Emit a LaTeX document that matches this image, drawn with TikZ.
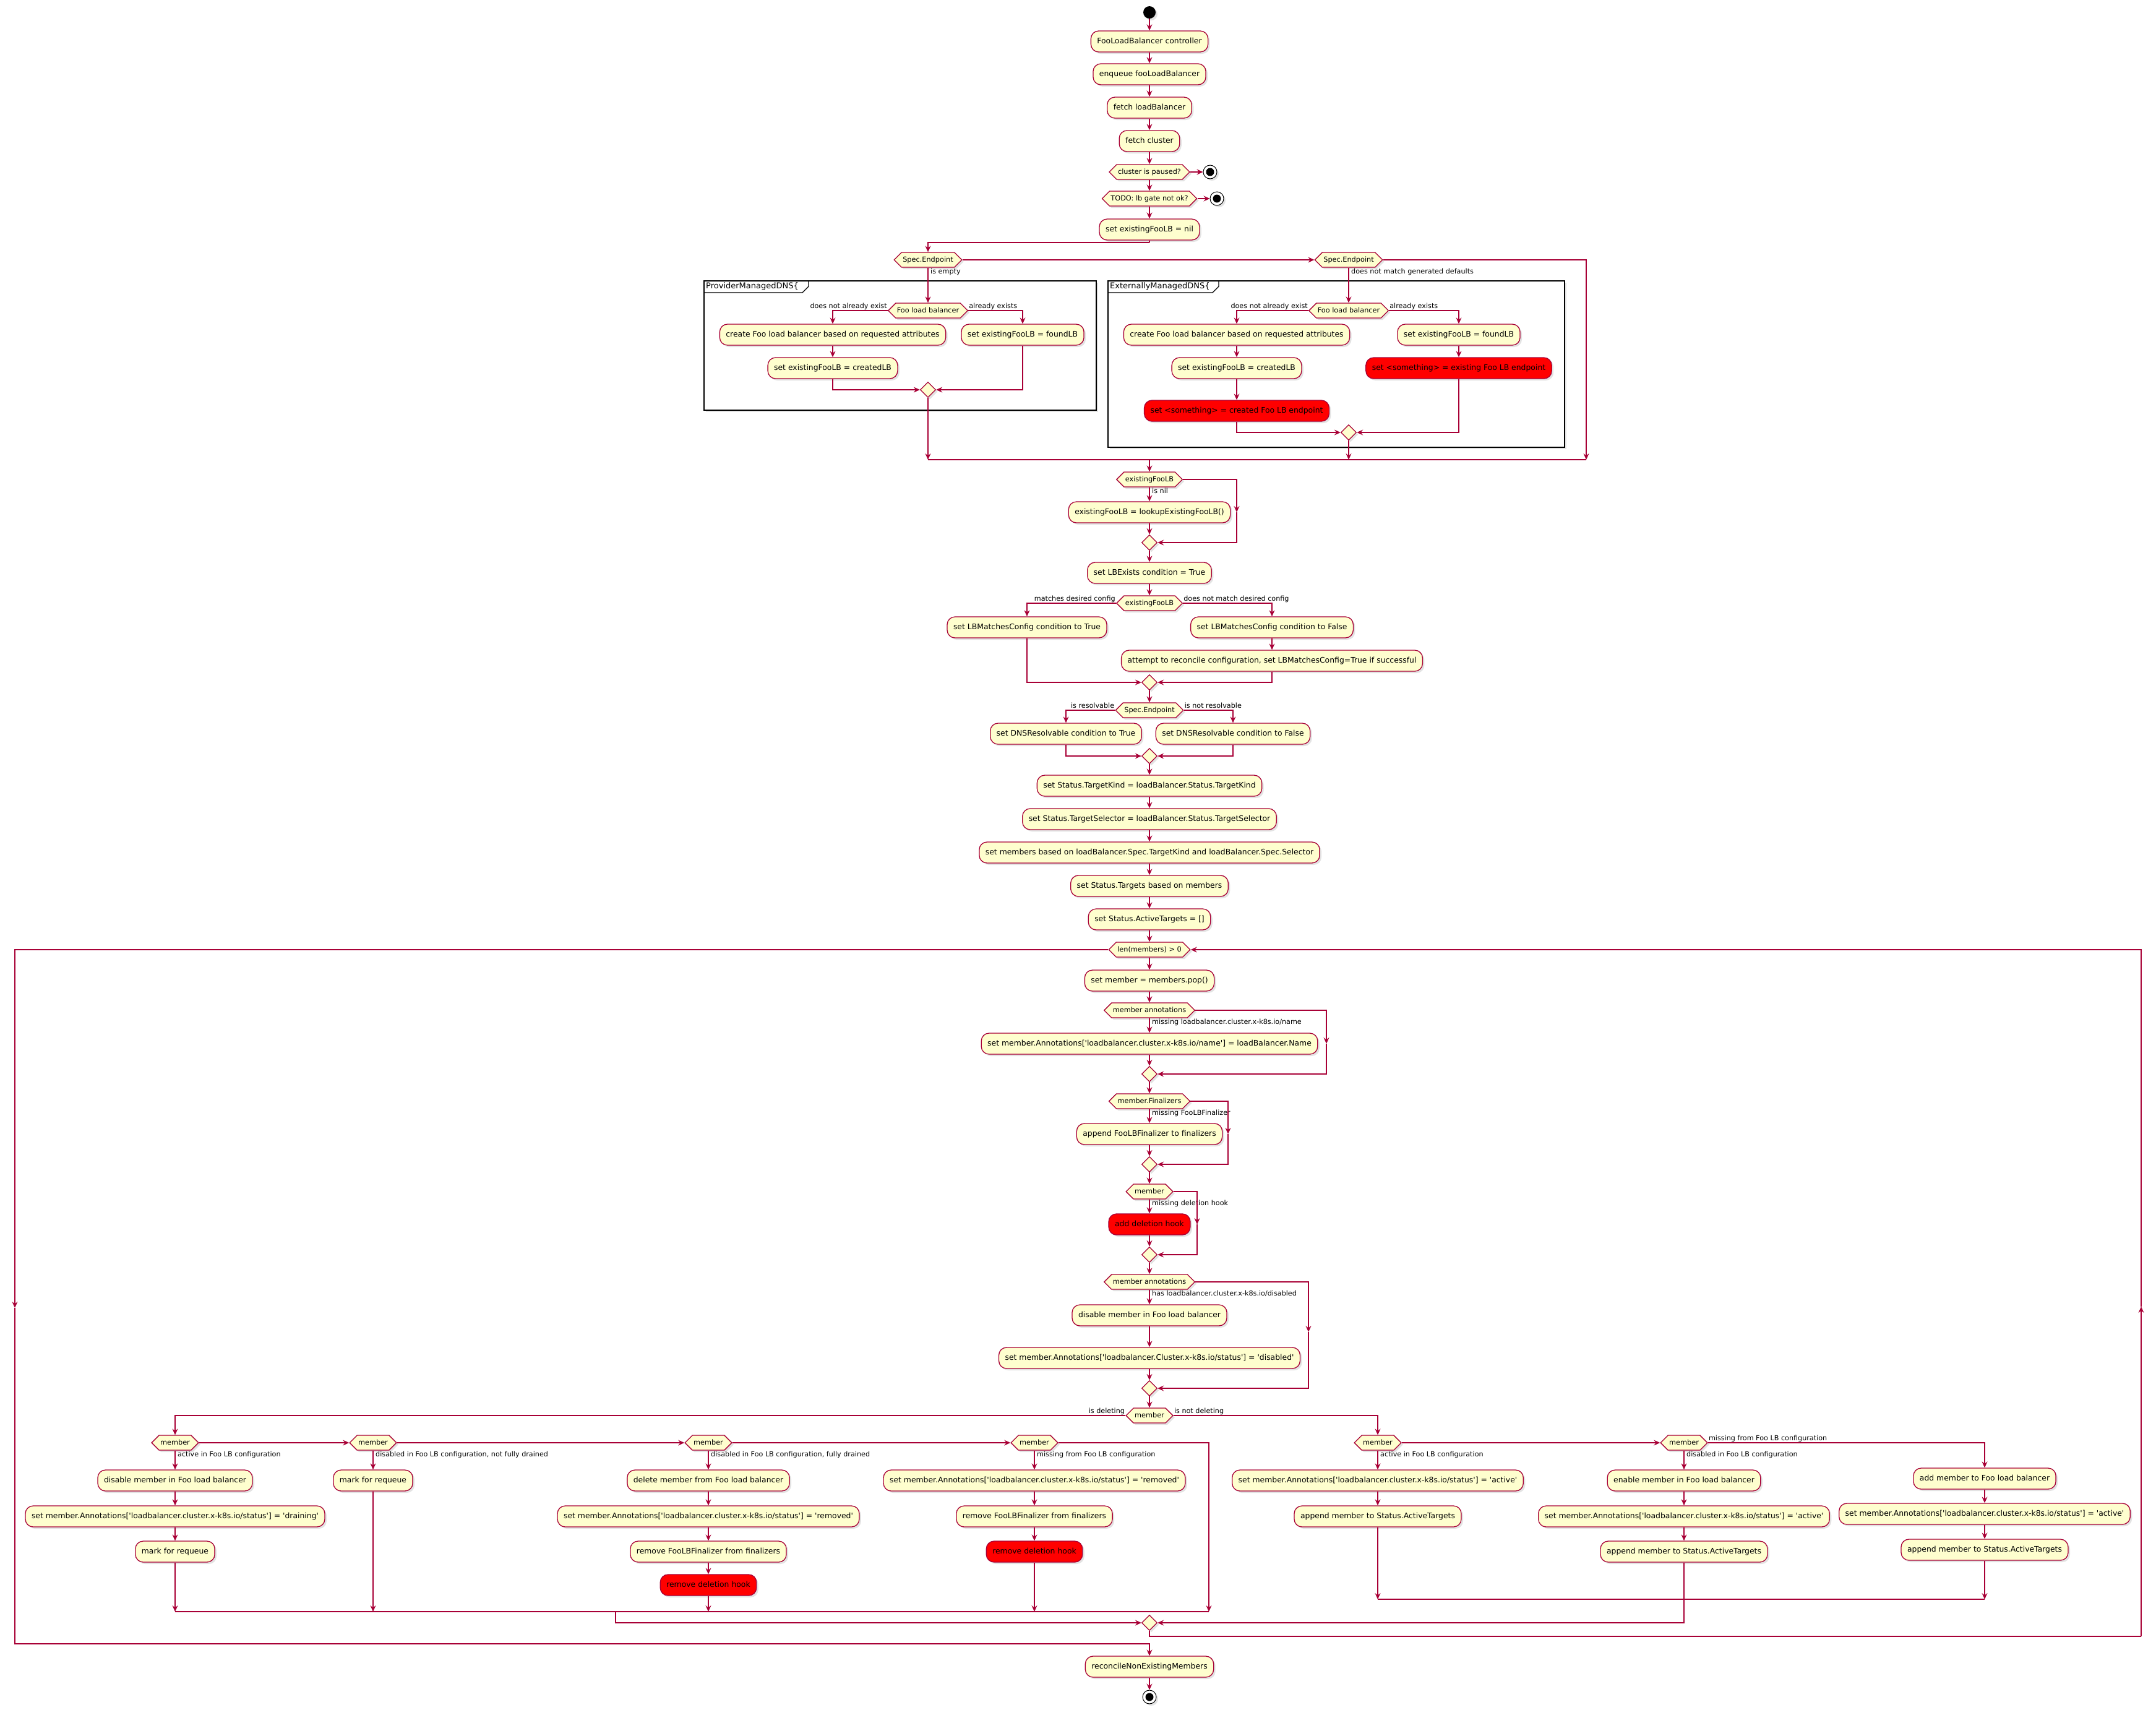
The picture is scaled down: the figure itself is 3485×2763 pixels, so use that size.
\documentclass[tikz,border=0pt]{standalone}
\usepackage{fontspec}
\usetikzlibrary{arrows.meta,shapes.geometric,shapes.symbols,shadows}
\newfontfamily\plfont{DejaVu Sans}
\newcommand\puboxfont{\plfont\fontsize{12.4pt}{14pt}\selectfont}
\newcommand\pudecfont{\plfont\fontsize{11.3pt}{13pt}\selectfont}
\newcommand\pulblfont{\plfont\fontsize{11.2pt}{13pt}\selectfont}
\newcommand\pufrmfont{\plfont\fontsize{13pt}{15pt}\selectfont}
\definecolor{acol}{HTML}{A80036}
\definecolor{boxfill}{HTML}{FEFECE}
\tikzset{
  shd/.style={drop shadow={shadow xshift=3pt,shadow yshift=-3pt,opacity=0.22}},
  flow/.style={draw=acol,line width=1.2pt,-{Stealth[length=10pt,width=9pt,inset=3.5pt]}},
  ln/.style={draw=acol,line width=1.2pt},
  act/.style={draw=acol,fill=boxfill,rounded corners=12.5pt,line width=1.3pt,minimum height=34pt,inner xsep=10pt,inner ysep=4pt,font=\puboxfont,text height=9.2pt,text depth=2.6pt,shd},
  redact/.style={act,fill=red},
  dec/.style={shape=signal,signal to=west and east,signal pointer angle=90,draw=acol,fill=boxfill,line width=1.3pt,inner xsep=2pt,inner ysep=3pt,minimum height=24pt,font=\pudecfont,text height=8.4pt,text depth=2.3pt,shd},
  mrg/.style={diamond,aspect=1,draw=acol,fill=boxfill,line width=1.3pt,minimum size=25pt,inner sep=0pt,shd},
  lbl/.style={font=\pulblfont,inner sep=1pt,text height=8.3pt,text depth=2.3pt},
  startnode/.style={circle,fill=black,minimum size=20pt,inner sep=0pt,shd},
  stopnode/.style={circle,draw=black,fill=white,line width=1pt,minimum size=22pt,inner sep=0pt,shd,
     path picture={\fill[black] (path picture bounding box.center) circle (6.5pt);}},
  frm/.style={draw=black,line width=1.6pt,fill=white,shd},
}
\begin{document}
\begin{tikzpicture}[x=1pt,y=-1pt]
\useasboundingbox (0,0) rectangle (3485,2763);
\fill[white] (0,0) rectangle (3485,2763);

% frames
\draw[frm] (1138,454) rectangle (1772,663);
\draw[line width=1.3pt] (1138,473) -- (1297,473) -- (1307,463) -- (1307,454);
\node[anchor=west,font=\pufrmfont,inner sep=1pt] (fr1) at (1140,463) {ProviderManagedDNS\{};
\draw[frm] (1791,454) rectangle (2529,723);
\draw[line width=1.3pt] (1791,473) -- (1960,473) -- (1970,463) -- (1970,454);
\node[anchor=west,font=\pufrmfont,inner sep=1pt] (fr2) at (1793,463) {ExternallyManagedDNS\{};

% top chain
\node[startnode] (start) at (1858,20) {};
\node[act] (n1) at (1858,67) {FooLoadBalancer controller};
\node[act] (n2) at (1858,120) {enqueue fooLoadBalancer};
\node[act] (n3) at (1858,174) {fetch loadBalancer};
\node[act] (n4) at (1858,228) {fetch cluster};
\node[dec] (d1) at (1858,278) {cluster is paused?};
\node[stopnode] (stop1) at (1956,278) {};
\node[dec] (d2) at (1858,321) {TODO: lb gate not ok?};
\node[stopnode] (stop2) at (1967,321) {};
\node[act] (n5) at (1858,371) {set existingFooLB = nil};

% Spec.Endpoint split
\node[dec] (se1) at (1500,420) {Spec.Endpoint};
\node[dec] (se2) at (2180,420) {Spec.Endpoint};
\node[dec] (fl1) at (1500,502) {Foo load balancer};
\node[act] (c1) at (1346,541) {create Foo load balancer based on requested attributes};
\node[act] (s1) at (1346,595) {set existingFooLB = createdLB};
\node[act] (f1) at (1653,541) {set existingFooLB = foundLB};
\node[mrg] (m1) at (1500,630) {};
\node[dec] (fl2) at (2180,502) {Foo load balancer};
\node[act] (c2) at (1999,541) {create Foo load balancer based on requested attributes};
\node[act] (s2) at (1999,595) {set existingFooLB = createdLB};
\node[redact] (r1) at (1999,664) {set <something> = created Foo LB endpoint};
\node[act] (f2) at (2358,541) {set existingFooLB = foundLB};
\node[redact] (r2) at (2358,595) {set <something> = existing Foo LB endpoint};
\node[mrg] (m2) at (2180,699) {};

% middle
\node[dec] (e1) at (1858,775) {existingFooLB};
\node[act] (lk) at (1858,828) {existingFooLB = lookupExistingFooLB()};
\node[mrg] (m3) at (1858,877) {};
\node[act] (lbe) at (1858,926) {set LBExists condition = True};
\node[dec] (e2) at (1858,975) {existingFooLB};
\node[act] (mt) at (1660,1014) {set LBMatchesConfig condition to True};
\node[act] (mf) at (2056,1014) {set LBMatchesConfig condition to False};
\node[act] (at) at (2056,1068) {attempt to reconcile configuration, set LBMatchesConfig=True if successful};
\node[mrg] (m4) at (1858,1103) {};
\node[dec] (se3) at (1858,1148) {Spec.Endpoint};
\node[act] (dt) at (1723,1186) {set DNSResolvable condition to True};
\node[act] (df) at (1993,1186) {set DNSResolvable condition to False};
\node[mrg] (m5) at (1858,1222) {};
\node[act] (tk) at (1858,1270) {set Status.TargetKind = loadBalancer.Status.TargetKind};
\node[act] (ts) at (1858,1324) {set Status.TargetSelector = loadBalancer.Status.TargetSelector};
\node[act] (sm) at (1858,1378) {set members based on loadBalancer.Spec.TargetKind and loadBalancer.Spec.Selector};
\node[act] (st) at (1858,1432) {set Status.Targets based on members};
\node[act] (sa) at (1858,1486) {set Status.ActiveTargets = []};

% loop body
\node[dec] (lm) at (1858,1535) {len(members) > 0};
\node[act] (pop) at (1858,1585) {set member = members.pop()};
\node[dec] (ma1) at (1858,1633) {member annotations};
\node[act] (an) at (1858,1687) {set member.Annotations['loadbalancer.cluster.x-k8s.io/name'] = loadBalancer.Name};
\node[mrg] (m6) at (1858,1736) {};
\node[dec] (fz) at (1858,1780) {member.Finalizers};
\node[act] (af) at (1858,1833) {append FooLBFinalizer to finalizers};
\node[mrg] (m7) at (1858,1882) {};
\node[dec] (mb1) at (1858,1926) {member};
\node[redact] (adh) at (1858,1979) {add deletion hook};
\node[mrg] (m8) at (1858,2028) {};
\node[dec] (ma2) at (1858,2072) {member annotations};
\node[act] (dis) at (1858,2126) {disable member in Foo load balancer};
\node[act] (sdis) at (1858,2195) {set member.Annotations['loadbalancer.Cluster.x-k8s.io/status'] = 'disabled'};
\node[mrg] (m9) at (1858,2244) {};
\node[dec] (mem) at (1858,2288) {member};

% deleting side
\node[dec] (q1) at (283,2332) {member};
\node[act] (q1a) at (283,2393) {disable member in Foo load balancer};
\node[act] (q1b) at (283,2451) {set member.Annotations['loadbalancer.cluster.x-k8s.io/status'] = 'draining'};
\node[act] (q1c) at (283,2508) {mark for requeue};
\node[dec] (q2) at (603,2332) {member};
\node[act] (q2a) at (603,2393) {mark for requeue};
\node[dec] (q3) at (1145,2332) {member};
\node[act] (q3a) at (1145,2393) {delete member from Foo load balancer};
\node[act] (q3b) at (1145,2451) {set member.Annotations['loadbalancer.cluster.x-k8s.io/status'] = 'removed'};
\node[act] (q3c) at (1145,2508) {remove FooLBFinalizer from finalizers};
\node[redact] (q3d) at (1145,2562) {remove deletion hook};
\node[dec] (q4) at (1672,2332) {member};
\node[act] (q4a) at (1672,2393) {set member.Annotations['loadbalancer.cluster.x-k8s.io/status'] = 'removed'};
\node[act] (q4b) at (1672,2451) {remove FooLBFinalizer from finalizers};
\node[redact] (q4c) at (1672,2508) {remove deletion hook};

% not deleting side
\node[dec] (p1) at (2227,2332) {member};
\node[act] (p1a) at (2227,2393) {set member.Annotations['loadbalancer.cluster.x-k8s.io/status'] = 'active'};
\node[act] (p1b) at (2227,2451) {append member to Status.ActiveTargets};
\node[dec] (p2) at (2722,2332) {member};
\node[act] (p2a) at (2722,2393) {enable member in Foo load balancer};
\node[act] (p2b) at (2722,2451) {set member.Annotations['loadbalancer.cluster.x-k8s.io/status'] = 'active'};
\node[act] (p2c) at (2722,2508) {append member to Status.ActiveTargets};
\node[act] (p3a) at (3208,2390) {add member to Foo load balancer};
\node[act] (p3b) at (3208,2447) {set member.Annotations['loadbalancer.cluster.x-k8s.io/status'] = 'active'};
\node[act] (p3c) at (3208,2505) {append member to Status.ActiveTargets};

\node[mrg] (mfin) at (1858,2623) {};
\node[act] (rec) at (1858,2694) {reconcileNonExistingMembers};
\node[stopnode] (stop3) at (1858,2743) {};

% helper coordinates
\coordinate (j1) at (1858,392);
\coordinate (jL) at (1500,743);
\coordinate (jM) at (2180,743);
\coordinate (jC) at (1858,743);
\coordinate (jR) at (2564,743);
\coordinate (b1) at (1999,828);
\coordinate (b2) at (2144,1687);
\coordinate (b3) at (1985,1833);
\coordinate (b4) at (1935,1979);
\coordinate (b5) at (2115,2153);
\coordinate (k1) at (283,2605);
\coordinate (k2) at (603,2605);
\coordinate (k3) at (1145,2605);
\coordinate (k4) at (1672,2605);
\coordinate (k5) at (1954,2605);
\coordinate (k6) at (995,2605);
\coordinate (h1) at (2227,2585);
\coordinate (h3) at (3208,2585);
\coordinate (lp0) at (1858,2645);
\coordinate (lp1) at (3461,2645);
\coordinate (lp2) at (3461,2112);
\coordinate (ex1) at (24,2114);
\coordinate (ex2) at (1858,2657);

% connectors: top
\draw[flow] (start) -- (n1.north);
\draw[flow] (n1.south) -- (n2.north);
\draw[flow] (n2.south) -- (n3.north);
\draw[flow] (n3.south) -- (n4.north);
\draw[flow] (n4.south) -- (d1.north);
\draw[flow] (d1.east) -- (stop1.west);
\draw[flow] (d1.south) -- (d2.north);
\draw[flow] (d2.east) -- (stop2.west);
\draw[flow] (d2.south) -- (n5.north);
\draw[ln] (n5.south) -- (j1);
\draw[flow] (j1) -| (se1.north);
\draw[flow] (se1.east) -- (se2.west);
\draw[flow] (se2.east) -| (jR);
\draw[flow] (se1.south) -- (fl1.north);
\node[lbl,anchor=north west] (l1) at ([xshift=3pt]se1.south) {is empty};
\draw[flow] (fl1.west) -| (c1.north);
\node[lbl,anchor=south east] (l2) at (fl1.west) {does not already exist};
\draw[flow] (fl1.east) -| (f1.north);
\node[lbl,anchor=south west] (l3) at (fl1.east) {already exists};
\draw[flow] (c1.south) -- (s1.north);
\draw[flow] (s1.south) |- (m1.west);
\draw[flow] (f1.south) |- (m1.east);
\draw[flow] (m1.south) -- (jL);
\draw[flow] (se2.south) -- (fl2.north);
\node[lbl,anchor=north west] (l4) at ([xshift=3pt]se2.south) {does not match generated defaults};
\draw[flow] (fl2.west) -| (c2.north);
\node[lbl,anchor=south east] (l5) at (fl2.west) {does not already exist};
\draw[flow] (fl2.east) -| (f2.north);
\node[lbl,anchor=south west] (l6) at (fl2.east) {already exists};
\draw[flow] (c2.south) -- (s2.north);
\draw[flow] (s2.south) -- (r1.north);
\draw[flow] (f2.south) -- (r2.north);
\draw[flow] (r1.south) |- (m2.west);
\draw[flow] (r2.south) |- (m2.east);
\draw[flow] (m2.south) -- (jM);
\draw[ln] (jL) -- (jR);
\draw[flow] (jC) -- (e1.north);

% middle
\draw[flow] (e1.south) -- (lk.north);
\node[lbl,anchor=north west] (l7) at ([xshift=3pt]e1.south) {is nil};
\draw[flow] (e1.east) -| (b1);
\draw[flow] (b1) |- (m3.east);
\draw[flow] (lk.south) -- (m3.north);
\draw[flow] (m3.south) -- (lbe.north);
\draw[flow] (lbe.south) -- (e2.north);
\draw[flow] (e2.west) -| (mt.north);
\node[lbl,anchor=south east] (l8) at (e2.west) {matches desired config};
\draw[flow] (e2.east) -| (mf.north);
\node[lbl,anchor=south west] (l9) at (e2.east) {does not match desired config};
\draw[flow] (mf.south) -- (at.north);
\draw[flow] (mt.south) |- (m4.west);
\draw[flow] (at.south) |- (m4.east);
\draw[flow] (m4.south) -- (se3.north);
\draw[flow] (se3.west) -| (dt.north);
\node[lbl,anchor=south east] (l10) at (se3.west) {is resolvable};
\draw[flow] (se3.east) -| (df.north);
\node[lbl,anchor=south west] (l11) at (se3.east) {is not resolvable};
\draw[flow] (dt.south) |- (m5.west);
\draw[flow] (df.south) |- (m5.east);
\draw[flow] (m5.south) -- (tk.north);
\draw[flow] (tk.south) -- (ts.north);
\draw[flow] (ts.south) -- (sm.north);
\draw[flow] (sm.south) -- (st.north);
\draw[flow] (st.south) -- (sa.north);
\draw[flow] (sa.south) -- (lm.north);

% loop body
\draw[flow] (lm.south) -- (pop.north);
\draw[flow] (pop.south) -- (ma1.north);
\draw[flow] (ma1.south) -- (an.north);
\node[lbl,anchor=north west] (l12) at ([xshift=3pt]ma1.south) {missing loadbalancer.cluster.x-k8s.io/name};
\draw[flow] (ma1.east) -| (b2);
\draw[flow] (b2) |- (m6.east);
\draw[flow] (an.south) -- (m6.north);
\draw[flow] (m6.south) -- (fz.north);
\draw[flow] (fz.south) -- (af.north);
\node[lbl,anchor=north west] (l13) at ([xshift=3pt]fz.south) {missing FooLBFinalizer};
\draw[flow] (fz.east) -| (b3);
\draw[flow] (b3) |- (m7.east);
\draw[flow] (af.south) -- (m7.north);
\draw[flow] (m7.south) -- (mb1.north);
\draw[flow] (mb1.south) -- (adh.north);
\node[lbl,anchor=north west] (l14) at ([xshift=3pt]mb1.south) {missing deletion hook};
\draw[flow] (mb1.east) -| (b4);
\draw[flow] (b4) |- (m8.east);
\draw[flow] (adh.south) -- (m8.north);
\draw[flow] (m8.south) -- (ma2.north);
\draw[flow] (ma2.south) -- (dis.north);
\node[lbl,anchor=north west] (l15) at ([xshift=3pt]ma2.south) {has loadbalancer.cluster.x-k8s.io/disabled};
\draw[flow] (ma2.east) -| (b5);
\draw[flow] (b5) |- (m9.east);
\draw[flow] (dis.south) -- (sdis.north);
\draw[flow] (sdis.south) -- (m9.north);
\draw[flow] (m9.south) -- (mem.north);

% member split
\draw[flow] (mem.west) -| (q1.north);
\node[lbl,anchor=south east] (l16) at (mem.west) {is deleting};
\draw[flow] (mem.east) -| (p1.north);
\node[lbl,anchor=south west] (l17) at (mem.east) {is not deleting};

% deleting side
\draw[flow] (q1.south) -- (q1a.north);
\node[lbl,anchor=north west] (l18) at ([xshift=3pt]q1.south) {active in Foo LB configuration};
\draw[flow] (q1a.south) -- (q1b.north);
\draw[flow] (q1b.south) -- (q1c.north);
\draw[flow] (q1c.south) -- (k1);
\draw[flow] (q1.east) -- (q2.west);
\draw[flow] (q2.south) -- (q2a.north);
\node[lbl,anchor=north west] (l19) at ([xshift=3pt]q2.south) {disabled in Foo LB configuration, not fully drained};
\draw[flow] (q2a.south) -- (k2);
\draw[flow] (q2.east) -- (q3.west);
\draw[flow] (q3.south) -- (q3a.north);
\node[lbl,anchor=north west] (l20) at ([xshift=3pt]q3.south) {disabled in Foo LB configuration, fully drained};
\draw[flow] (q3a.south) -- (q3b.north);
\draw[flow] (q3b.south) -- (q3c.north);
\draw[flow] (q3c.south) -- (q3d.north);
\draw[flow] (q3d.south) -- (k3);
\draw[flow] (q3.east) -- (q4.west);
\draw[flow] (q4.south) -- (q4a.north);
\node[lbl,anchor=north west] (l21) at ([xshift=3pt]q4.south) {missing from Foo LB configuration};
\draw[flow] (q4a.south) -- (q4b.north);
\draw[flow] (q4b.south) -- (q4c.north);
\draw[flow] (q4c.south) -- (k4);
\draw[flow] (q4.east) -| (k5);
\draw[ln] (k1) -- (k5);
\draw[flow] (k6) |- (mfin.west);

% not deleting side
\draw[flow] (p1.south) -- (p1a.north);
\node[lbl,anchor=north west] (l22) at ([xshift=3pt]p1.south) {active in Foo LB configuration};
\draw[flow] (p1a.south) -- (p1b.north);
\draw[flow] (p1b.south) -- (h1);
\draw[flow] (p1.east) -- (p2.west);
\draw[flow] (p2.south) -- (p2a.north);
\node[lbl,anchor=north west] (l23) at ([xshift=3pt]p2.south) {disabled in Foo LB configuration};
\draw[flow] (p2a.south) -- (p2b.north);
\draw[flow] (p2b.south) -- (p2c.north);
\draw[flow] (p2c.south) |- (mfin.east);
\draw[flow] (p2.east) -| (p3a.north);
\node[lbl,anchor=south west] (l24) at (p2.east) {missing from Foo LB configuration};
\draw[flow] (p3a.south) -- (p3b.north);
\draw[flow] (p3b.south) -- (p3c.north);
\draw[flow] (p3c.south) -- (h3);
\draw[ln] (h1) -- (h3);

% loop back and exit
\draw[ln] (mfin.south) -- (lp0) -- (lp1);
\draw[flow] (lp1) -- (lp2);
\draw[flow] (lp2) |- (lm.east);
\draw[flow] (lm.west) -| (ex1);
\draw[flow] (ex1) |- (ex2) -- (rec.north);
\draw[flow] (rec.south) -- (stop3.north);
\end{tikzpicture}
\end{document}
